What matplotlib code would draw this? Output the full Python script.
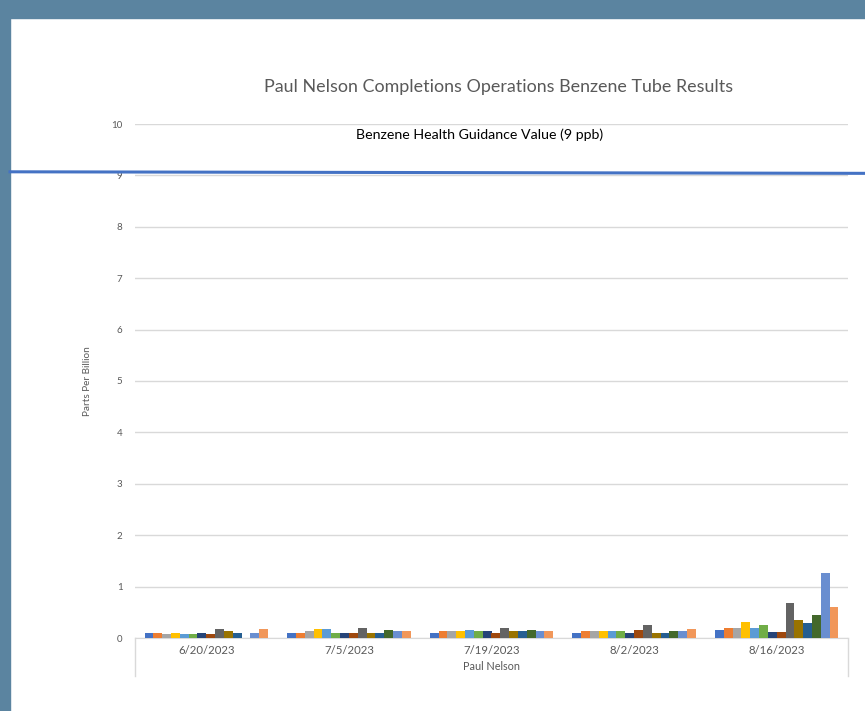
import numpy as np
import matplotlib.pyplot as plt
import matplotlib.transforms as mtransforms
from matplotlib.patches import Rectangle

plt.rcParams['font.family'] = ['Lato', 'DejaVu Sans']

# sample dates (categories)
dates = ['6/20/2023', '7/5/2023', '7/19/2023', '8/2/2023', '8/16/2023']

# one series per tube (14 tubes), values in ppb for each date
s01 = [0.10, 0.10, 0.10, 0.10, 0.15]
s02 = [0.10, 0.10, 0.13, 0.13, 0.19]
s03 = [0.07, 0.13, 0.13, 0.13, 0.19]
s04 = [0.10, 0.18, 0.13, 0.13, 0.32]
s05 = [0.07, 0.18, 0.15, 0.13, 0.19]
s06 = [0.07, 0.10, 0.13, 0.13, 0.25]
s07 = [0.10, 0.10, 0.13, 0.10, 0.12]
s08 = [0.08, 0.10, 0.10, 0.15, 0.12]
s09 = [0.18, 0.20, 0.20, 0.25, 0.68]
s10 = [0.13, 0.10, 0.13, 0.10, 0.35]
s11 = [0.10, 0.10, 0.13, 0.10, 0.30]
s12 = [np.nan, 0.15, 0.15, 0.13, 0.45]
s13 = [0.10, 0.13, 0.13, 0.13, 1.27]
s14 = [0.18, 0.13, 0.13, 0.18, 0.60]
series = [s01, s02, s03, s04, s05, s06, s07, s08, s09, s10, s11, s12, s13, s14]

guidance_value = 9

colors = ['#4472C4', '#ED7D31', '#A5A5A5', '#FFC000', '#5B9BD5', '#70AD47',
          '#264478', '#9E480E', '#636363', '#997300', '#255E91', '#43682B',
          '#698ED0', '#F1975A']

fig = plt.figure(figsize=(8.65, 7.11), dpi=100)
# screenshot frame
fig.patches.append(Rectangle((0, 0), 10 / 865, 1, transform=fig.transFigure,
                             color='#5B84A0', zorder=0))
fig.patches.append(Rectangle((0, 1 - 18 / 711), 1, 18 / 711, transform=fig.transFigure,
                             color='#5B84A0', zorder=0))

ax = fig.add_axes([135 / 865, 1 - 638 / 711, (848 - 135) / 865, (638 - 124) / 711])

n = len(series)
x = np.arange(len(dates))
group_w = 1 / (1 + 2.19 / n)
bw = group_w / n
for i, (vals, c) in enumerate(zip(series, colors)):
    off = -group_w / 2 + bw * (i + 0.5)
    ax.bar(x + off, vals, width=bw, color=c, zorder=3)

ax.set_xlim(-0.5, len(dates) - 0.5)
ax.set_ylim(0, 10)
ax.set_yticks(range(0, 11))
ax.grid(axis='y', color='#D9D9D9', linewidth=1, zorder=0)
ax.tick_params(axis='y', length=0, labelsize=7, labelcolor='#595959', pad=9)
ax.set_xticks(x)
ax.set_xticklabels(dates)
ax.tick_params(axis='x', length=0, labelsize=8.2, labelcolor='#595959', pad=5)
for s in ['top', 'right', 'left']:
    ax.spines[s].set_visible(False)
ax.spines['bottom'].set_color('#D9D9D9')

ax.set_xlabel('Paul Nelson', fontsize=7.8, color='#595959', labelpad=4)
ax.set_ylabel('Parts Per Billion', fontsize=7.2, color='#595959', labelpad=14)

# category box lines below the axis
for xf in [135 / 865, 848 / 865]:
    fig.add_artist(plt.Line2D([xf, xf], [1 - 638 / 711, 1 - 676 / 711],
                              transform=fig.transFigure, color='#D9D9D9', linewidth=1))

# guidance line across the whole picture
trans = mtransforms.blended_transform_factory(fig.transFigure, ax.transData)
line = plt.Line2D([10 / 865, 1], [guidance_value + 0.07, guidance_value + 0.04],
                  transform=trans, color='#4472C4', linewidth=2.2, zorder=5)
fig.add_artist(line)
fig.text(480 / 865, 1 - 135 / 711, 'Benzene Health Guidance Value (9 ppb)',
         ha='center', va='center', fontsize=10.2, color='black')

fig.text(499 / 865, 1 - 87 / 711, 'Paul Nelson Completions Operations Benzene Tube Results',
         ha='center', va='center', fontsize=12.9, color='#595959')

fig.savefig('out.png', dpi=100)
